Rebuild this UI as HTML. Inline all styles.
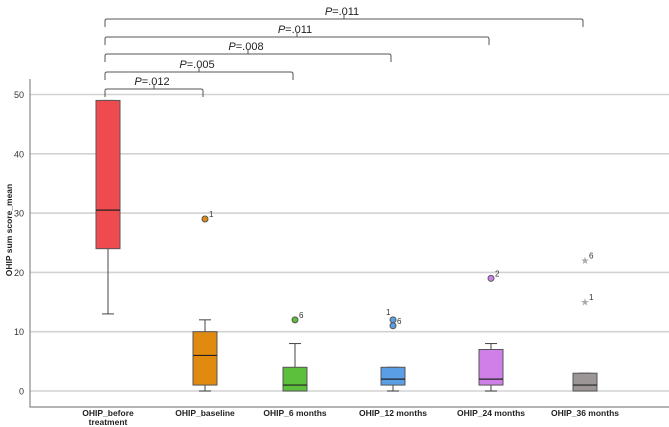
<!DOCTYPE html>
<html><head><meta charset="utf-8"><style>
body{margin:0;background:#fff;}
svg{display:block;font-family:"Liberation Sans",Arial,sans-serif;}
</style></head><body>
<svg id="chart" width="669" height="427"></svg>
<script>
const categories=["OHIP_before|treatment","OHIP_baseline","OHIP_6 months","OHIP_12 months","OHIP_24 months","OHIP_36 months"];
const mins=[13,0,0,0,0,0];
const q1s=[24,1,0,1,1,0];
const medians=[30.5,6,1,2,2,1];
const q3s=[49,10,4,4,7,3];
const maxs=[49,12,8,4,8,3];
const outliers=[[],[[29,"1"]],[[12,"6"]],[[12,"1"],[11,"6"]],[[19,"2"]],[]];
const extremes=[[],[],[],[],[],[[22,"6"],[15,"1"]]];
const colors=["#ef4b4f","#e08a10","#5cc03c","#5a9fe6","#cf80e8","#9c9696"];
const yTicks=[0,10,20,30,40,50];
const pLabels=[".012",".005",".008",".011",".011"];
const pTargets=[1,2,3,4,5];
const centers=[108,205,295,393,491,585];
const NS="http://www.w3.org/2000/svg";
const svg=document.getElementById("chart");
function y(v){return 391-v*5.93;}
function x(i){return centers[i];}
function el(t,a,p){const e=document.createElementNS(NS,t);for(const k in a)e.setAttribute(k,a[k]);(p||svg).appendChild(e);return e;}
// grid
yTicks.forEach(t=>{
 const g=el("line",{x1:30,x2:669,y1:y(t),y2:y(t),stroke:"#d2d2d2","stroke-width":1.6});
 
 
 const l=el("text",{x:24,y:y(t)+3.5,"text-anchor":"end","font-size":9,fill:"#333"});
 l.textContent=t;
 
 
});
const ax=el("path",{d:"M30 79 V407 H669",fill:"none",stroke:"#888","stroke-width":1.2});


const yt=el("text",{x:0,y:0,transform:"translate(12,230) rotate(-90)","text-anchor":"middle","font-size":8.5,"font-weight":"bold",fill:"#222"});
yt.textContent="OHIP sum score_mean";


const hw=12;
categories.forEach((c,i)=>{
 const cx=x(i);
 const g=el("g",{});
 
 
 el("line",{x1:cx,x2:cx,y1:y(maxs[i]),y2:y(q3s[i]),stroke:"#444"},g);
 el("line",{x1:cx,x2:cx,y1:y(q1s[i]),y2:y(mins[i]),stroke:"#444"},g);
 el("line",{x1:cx-6,x2:cx+6,y1:y(maxs[i]),y2:y(maxs[i]),stroke:"#444"},g);
 el("line",{x1:cx-6,x2:cx+6,y1:y(mins[i]),y2:y(mins[i]),stroke:"#444"},g);
 el("rect",{x:cx-hw,y:y(q3s[i]),width:2*hw,height:Math.max(y(q1s[i])-y(q3s[i]),0.5),fill:colors[i],stroke:"#555"},g);
 el("line",{x1:cx-hw,x2:cx+hw,y1:y(medians[i]),y2:y(medians[i]),stroke:"#222","stroke-width":1.2},g);
 outliers[i].forEach(o=>{
  const d=el("circle",{cx:cx,cy:y(o[0]),r:3,fill:colors[i],stroke:"#555"});
  
  
  const t=el("text",{x:cx+(o[1]==="1"&&i===3?-7:4),y:y(o[0])-(o[1]==="1"&&i===3?5:2),"font-size":8,fill:"#333"});
  t.textContent=o[1];
  
  
 });
 extremes[i].forEach(o=>{
  const d=el("text",{x:cx,y:y(o[0])+3.5,"text-anchor":"middle","font-size":10,fill:"#aaa"});
  d.textContent="★";
  
  
  const t=el("text",{x:cx+4,y:y(o[0])-2,"font-size":8,fill:"#333"});
  t.textContent=o[1];
  
  
 });
 const parts=c.split("|");
 const lb=el("text",{x:cx,y:416,"text-anchor":"middle","font-size":8.5,"font-weight":"bold",fill:"#222"});
 
 
 parts.forEach((p,k)=>{const ts=el("tspan",{x:cx,dy:k?9:0},lb);ts.textContent=p;});
});
// brackets
const bY=[89,72,54,37,19];
pLabels.forEach((p,k)=>{
 const x1=105,x2=x(pTargets[k])-2,by=bY[k],mid=(x1+x2)/2;
 const g=el("g",{});
 
 
 el("path",{d:`M${x1} ${by+8} V${by+2} Q${x1} ${by} ${x1+2} ${by} H${x2-2} Q${x2} ${by} ${x2} ${by+2} V${by+8}`,fill:"none",stroke:"#555","stroke-width":1},g);
 el("line",{x1:mid,x2:mid,y1:by,y2:by-4,stroke:"#555"},g);
 const t=el("text",{x:mid-2,y:by-4,"text-anchor":"middle","font-size":11,fill:"#222"},g);
 const a=el("tspan",{"font-style":"italic"},t);a.textContent="P";
 const b=el("tspan",{},t);b.textContent="="+p;
});
</script>
</body></html>
